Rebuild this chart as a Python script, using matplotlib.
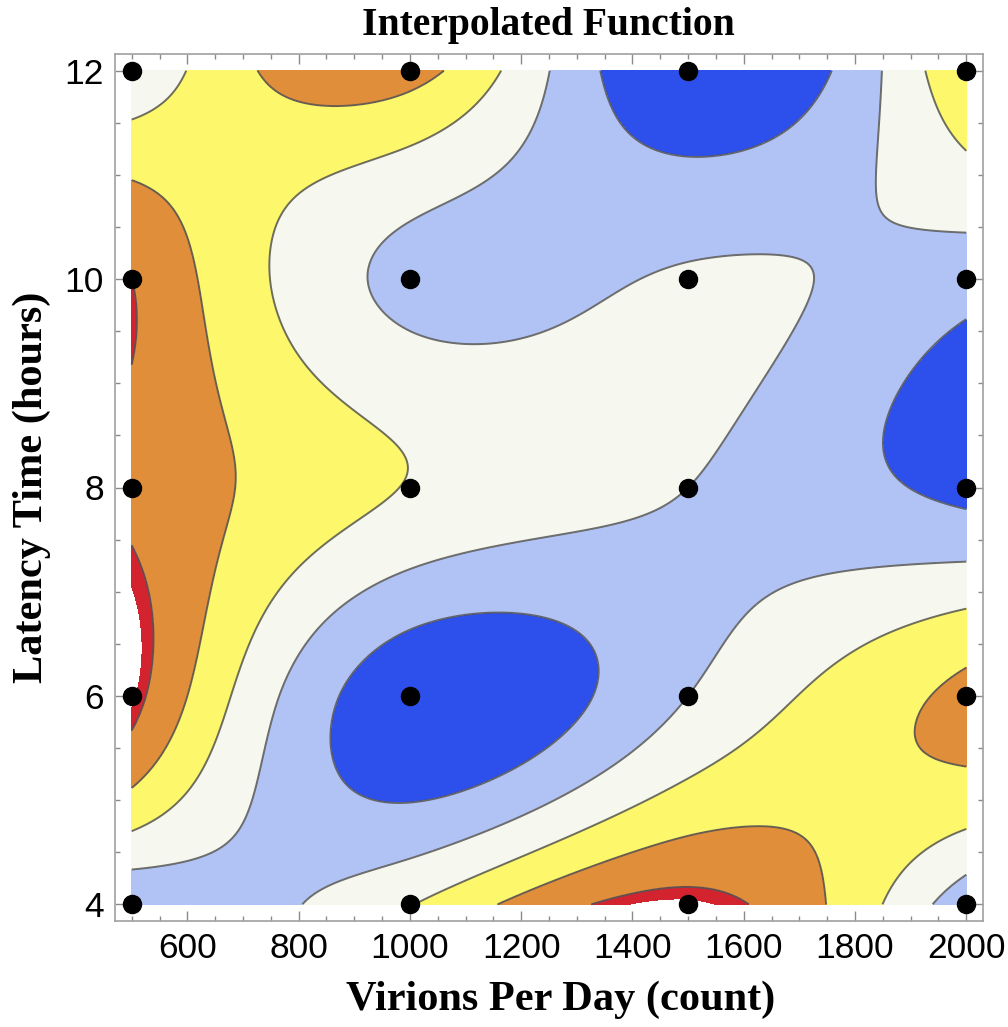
import numpy as np
import matplotlib
matplotlib.use("Agg")
import matplotlib.pyplot as plt
from matplotlib.ticker import MultipleLocator

# Sample grid
virions = [500, 1000, 1500, 2000]          # virions per day (count)
latency = [4, 6, 8, 10, 12]                # latency time (hours)

# Measured response, one row per latency value, one column per virion count
resp_4h = [1.05, 2.95, 5.35, 1.3]
resp_6h = [5.35, 0.3, 2.0, 4.25]
resp_8h = [4.75, 2.95, 2.0, 0.7]
resp_10h = [5.0, 1.75, 2.1, 1.45]
resp_12h = [2.1, 4.4, -0.1, 4.0]

# Contour bands (values above the last level stay unfilled)
band_levels = [-10, 1, 2, 3, 4, 5, 5.25]
band_colors = ["#2d50ec", "#b1c3f5", "#f6f7ef", "#fdf76b", "#e08e3a", "#d2232f"]
line_levels = [1, 2, 3, 4, 5]


def natural_spline_basis(nodes, fine):
    """Matrix B such that B @ values evaluates the natural cubic spline at `fine`."""
    nodes = np.asarray(nodes, float)
    n = len(nodes)
    h = np.diff(nodes)
    A = np.zeros((n, n))
    R = np.zeros((n, n))
    A[0, 0] = A[-1, -1] = 1.0
    for i in range(1, n - 1):
        A[i, i - 1] = h[i - 1]
        A[i, i] = 2 * (h[i - 1] + h[i])
        A[i, i + 1] = h[i]
        R[i, i - 1] = 6 / h[i - 1]
        R[i, i] = -6 / h[i - 1] - 6 / h[i]
        R[i, i + 1] = 6 / h[i]
    M = np.linalg.solve(A, R)
    idx = np.clip(np.searchsorted(nodes, fine, side="right") - 1, 0, n - 2)
    B = np.zeros((len(fine), n))
    for k, (x, i) in enumerate(zip(fine, idx)):
        hi = h[i]
        a = (nodes[i + 1] - x) / hi
        b = (x - nodes[i]) / hi
        B[k, i] += a
        B[k, i + 1] += b
        B[k] += (a ** 3 - a) * hi ** 2 / 6 * M[i] + (b ** 3 - b) * hi ** 2 / 6 * M[i + 1]
    return B


V = np.array([resp_4h, resp_6h, resp_8h, resp_10h, resp_12h])
xf = np.linspace(virions[0], virions[-1], 400)
yf = np.linspace(latency[0], latency[-1], 400)
Z = natural_spline_basis(latency, yf) @ V @ natural_spline_basis(virions, xf).T
X, Y = np.meshgrid(xf, yf)

plt.rcParams["font.family"] = ["Liberation Sans", "DejaVu Sans"]
fig = plt.figure(figsize=(10.08, 10.27), dpi=100)
ax = fig.add_axes([115 / 1008, 1 - 921 / 1027, 868 / 1008, 867 / 1027])

ax.contourf(X, Y, Z, levels=band_levels, colors=band_colors)
ax.contour(X, Y, Z, levels=line_levels, colors="#555555", linewidths=1.4, alpha=0.85)

GX, GY = np.meshgrid(virions, latency)
ax.plot(GX.ravel(), GY.ravel(), "o", color="black", ms=13, clip_on=False, zorder=5)

ax.set_xlim(470, 2030)
ax.set_ylim(3.84, 12.16)
ax.xaxis.set_major_locator(MultipleLocator(200))
ax.xaxis.set_minor_locator(MultipleLocator(50))
ax.yaxis.set_major_locator(MultipleLocator(2))
ax.yaxis.set_minor_locator(MultipleLocator(0.5))
ax.tick_params(which="both", direction="in", top=True, right=True, color="#8a8a8a", width=1.0)
ax.tick_params(which="major", length=7, labelsize=25.5, pad=8)
ax.tick_params(which="minor", length=3.5)
for s in ax.spines.values():
    s.set_color("#a0a0a0")
    s.set_linewidth(1.2)

serif = ["Liberation Serif", "DejaVu Serif"]
fig.text(548 / 1008, 1 - 25 / 1027, "Interpolated Function", ha="center", va="center",
         family=serif, weight="bold", fontsize=28.5)
fig.text(561 / 1008, 1 - 1000 / 1027, "Virions Per Day (count)", ha="center", va="center",
         family=serif, weight="bold", fontsize=30.5)
fig.text(32 / 1008, 1 - 487 / 1027, "Latency Time (hours)", ha="center", va="center",
         rotation=90, family=serif, weight="bold", fontsize=30.5)

fig.savefig("out.png", dpi=100)
